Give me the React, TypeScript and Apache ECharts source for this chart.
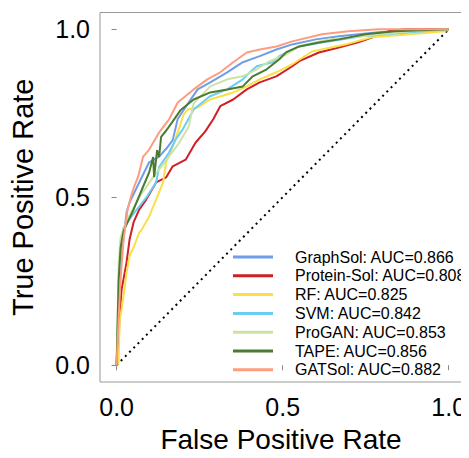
import React, { useEffect, useRef } from "react";
import * as echarts from "echarts";

const seriesNames = [
  "GraphSol: AUC=0.866",
  "Protein-Sol: AUC=0.808",
  "RF: AUC=0.825",
  "SVM: AUC=0.842",
  "ProGAN: AUC=0.853",
  "TAPE: AUC=0.856",
  "GATSol: AUC=0.882",
];

const seriesColors = ["#6f9de9", "#d01f26", "#f9e047", "#6bcdf5", "#cde3a6", "#4b7b30", "#fd9d7e"];

const graphSol: number[][] = [
  [0, 0], [0.003, 0.1], [0.006, 0.18], [0.009, 0.25], [0.014, 0.32], [0.02, 0.37], [0.03, 0.455],
  [0.039, 0.484], [0.068, 0.544], [0.098, 0.604], [0.128, 0.621], [0.15, 0.645], [0.169, 0.67],
  [0.184, 0.733], [0.202, 0.76], [0.244, 0.821], [0.282, 0.842], [0.333, 0.872], [0.38, 0.902],
  [0.431, 0.92], [0.481, 0.94], [0.529, 0.955], [0.6, 0.97], [0.669, 0.979], [0.788, 0.991],
  [0.9, 0.997], [1, 1],
];

const proteinSol: number[][] = [
  [0, 0], [0.003, 0.04], [0.006, 0.076], [0.009, 0.145], [0.015, 0.225], [0.03, 0.306],
  [0.039, 0.374], [0.051, 0.425], [0.068, 0.463], [0.089, 0.493], [0.119, 0.544], [0.149, 0.559],
  [0.169, 0.592], [0.208, 0.612], [0.238, 0.663], [0.267, 0.696], [0.291, 0.732], [0.312, 0.771],
  [0.351, 0.791], [0.392, 0.821], [0.431, 0.842], [0.481, 0.86], [0.529, 0.89], [0.55, 0.905],
  [0.609, 0.931], [0.669, 0.946], [0.728, 0.961], [0.779, 0.979], [0.817, 0.994], [0.868, 1],
  [1, 1],
];

const rf: number[][] = [
  [0, 0], [0.006, 0.007], [0.009, 0.128], [0.021, 0.206], [0.03, 0.276], [0.039, 0.325],
  [0.053, 0.355], [0.068, 0.395], [0.074, 0.401], [0.098, 0.443], [0.119, 0.493], [0.14, 0.544],
  [0.149, 0.604], [0.169, 0.651], [0.187, 0.702], [0.202, 0.747], [0.214, 0.761], [0.244, 0.767],
  [0.282, 0.791], [0.351, 0.812], [0.392, 0.83], [0.431, 0.851], [0.481, 0.872], [0.529, 0.896],
  [0.588, 0.934], [0.689, 0.955], [0.767, 0.976], [0.886, 0.985], [0.987, 0.994], [1, 1],
];

const svm: number[][] = [
  [0, 0], [0.003, 0.1], [0.006, 0.2], [0.009, 0.3], [0.015, 0.37], [0.021, 0.41], [0.05, 0.45],
  [0.09, 0.5], [0.119, 0.544], [0.128, 0.59], [0.158, 0.633], [0.178, 0.672], [0.199, 0.702],
  [0.232, 0.761], [0.28, 0.8], [0.333, 0.821], [0.38, 0.851], [0.401, 0.872], [0.422, 0.89],
  [0.47, 0.902], [0.49, 0.92], [0.55, 0.949], [0.639, 0.964], [0.737, 0.979], [0.886, 0.991],
  [1, 1],
];

const proGAN: number[][] = [
  [0, 0], [0.003, 0.15], [0.006, 0.3], [0.012, 0.38], [0.03, 0.43], [0.068, 0.5], [0.11, 0.56],
  [0.149, 0.61], [0.187, 0.66], [0.217, 0.71], [0.232, 0.78], [0.282, 0.83], [0.333, 0.851],
  [0.38, 0.86], [0.422, 0.881], [0.461, 0.905], [0.511, 0.925], [0.55, 0.95], [0.639, 0.97],
  [0.737, 0.979], [0.886, 0.994], [1, 1],
];

const tape: number[][] = [
  [0, 0], [0.003, 0.12], [0.006, 0.25], [0.012, 0.35], [0.021, 0.4], [0.051, 0.463],
  [0.08, 0.532], [0.098, 0.574], [0.11, 0.62], [0.113, 0.56], [0.122, 0.64], [0.128, 0.62],
  [0.134, 0.68], [0.149, 0.698], [0.169, 0.726], [0.193, 0.76], [0.232, 0.791], [0.282, 0.812],
  [0.333, 0.821], [0.38, 0.83], [0.41, 0.86], [0.452, 0.881], [0.49, 0.911], [0.511, 0.932],
  [0.55, 0.949], [0.609, 0.961], [0.669, 0.97], [0.749, 0.985], [0.838, 0.994], [1, 1],
];

const gatSol: number[][] = [
  [0, 0], [0.006, 0.136], [0.012, 0.255], [0.021, 0.374], [0.033, 0.463], [0.045, 0.508],
  [0.053, 0.532], [0.065, 0.562], [0.08, 0.621], [0.098, 0.642], [0.128, 0.693], [0.158, 0.732],
  [0.184, 0.782], [0.232, 0.821], [0.273, 0.851], [0.312, 0.872], [0.351, 0.902], [0.392, 0.931],
  [0.431, 0.94], [0.481, 0.949], [0.529, 0.964], [0.618, 0.985], [0.698, 0.994], [0.788, 1],
  [1, 1],
];

const seriesData = [graphSol, proteinSol, rf, svm, proGAN, tape, gatSol];
const diagonal: number[][] = [[0, 0], [1, 1]];
const tickValues = [0, 0.5, 1];

const FONT = "Liberation Sans, Arial, sans-serif";

export default function App() {
  const ref = useRef<HTMLDivElement>(null);
  useEffect(() => {
    if (!ref.current) return;
    const chart = echarts.init(ref.current, undefined, { renderer: "svg" });
    const axisCommon = {
      type: "value" as const,
      splitLine: { show: false },
      axisLine: { show: false },
      axisTick: { show: true, customValues: tickValues, length: 5, lineStyle: { color: "#888" } },
      axisLabel: {
        customValues: tickValues,
        formatter: (v: number) => v.toFixed(1),
        color: "#000",
        fontSize: 25,
        fontFamily: FONT,
      },
      nameLocation: "middle" as const,
    };
    chart.setOption({
      animation: false,
      backgroundColor: "#fff",
      grid: {
        left: 98,
        right: 4,
        top: 12.5,
        bottom: 76,
        show: true,
        borderColor: "#999",
        borderWidth: 1,
        backgroundColor: "transparent",
      },
      xAxis: {
        ...axisCommon,
        min: -0.05,
        max: 1.04,
        name: "False Positive Rate",
        nameGap: 43,
        nameTextStyle: { color: "#000", fontSize: 28, fontFamily: FONT },
        axisLabel: { ...axisCommon.axisLabel, margin: 12 },
      },
      yAxis: {
        ...axisCommon,
        min: -0.05,
        max: 1.05,
        name: "True Positive Rate",
        nameGap: 63,
        nameTextStyle: { color: "#000", fontSize: 29, fontFamily: FONT },
        axisLabel: { ...axisCommon.axisLabel, margin: 10 },
      },
      legend: {
        orient: "vertical",
        left: 233,
        top: 249,
        padding: 0,
        itemWidth: 40,
        itemHeight: 3,
        itemGap: 2.8,
        icon: "rect",
        data: seriesNames,
        textStyle: {
          fontSize: 16,
          lineHeight: 16,
          color: "#000",
          fontFamily: FONT,
          padding: [0, 0, 0, 17],
        },
      },
      series: [
        {
          type: "line",
          name: "diag",
          data: diagonal,
          symbol: "none",
          lineStyle: { color: "#000", width: 2, type: [2, 4] },
          z: 1,
        },
        ...seriesNames.map((name, i) => ({
          type: "line",
          name,
          data: seriesData[i],
          symbol: "none",
          color: seriesColors[i],
          lineStyle: { color: seriesColors[i], width: 2 },
          z: 2 + i,
        })),
      ],
    });
    return () => chart.dispose();
  }, []);
  return <div ref={ref} style={{ width: 469, height: 458, margin: -8 }} />;
}
